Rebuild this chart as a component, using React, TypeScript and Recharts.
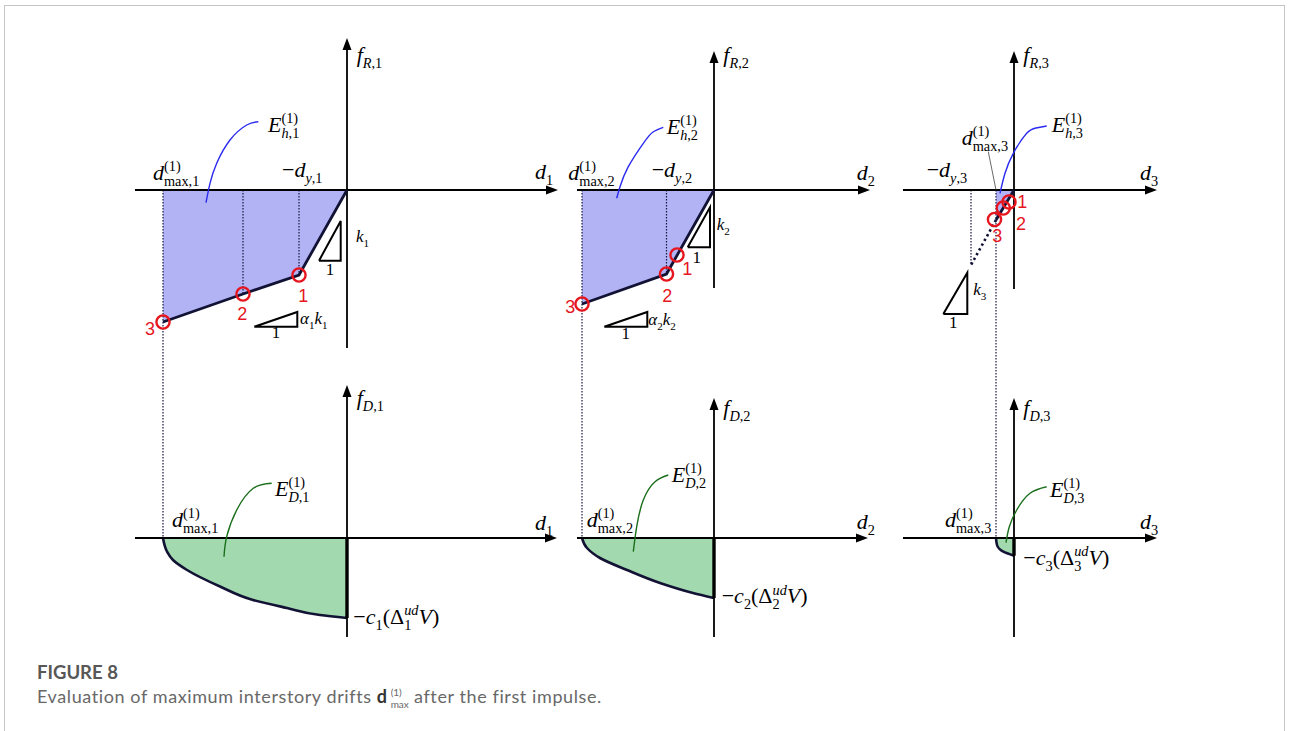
import React from "react";
import { ComposedChart, XAxis, YAxis, Line, Area, Scatter } from "recharts";

const SERIF = "'Liberation Serif', 'Times New Roman', serif";
const SANS = "'Liberation Sans', Arial, sans-serif";
const INK = "#000";
const CURVE = "#121235";
const DOTS = "#141440";
const BLUE_FILL = "#b2b3f5";
const GREEN_FILL = "#a3d9af";
const RED = "#e6161e";

// drift d (negative = left) and force f, one unit = 10 px in every panel
const maxDrift = [-18.4, -13.2, -1.8];

// restoring-force branch of each storey
const drift1 = [0, -4.8, -10.4, -18.4];
const force1 = [0, -8.5, -10.4, -13.2];
const drift2 = [0, -4.75, -13.2];
const force2 = [0, -8.4, -11.4];
const drift3 = [0, -1.8];
const force3 = [0, -3.0];

// storey 3 stays elastic: k3 line carried on to the yield point
const elasticD3 = [-1.8, -4.3];
const elasticF3 = [-3.0, -7.5];

// time-step markers 1, 2, 3
const stepD = [
  [-4.8, -10.4, -18.4],
  [-3.7, -4.75, -13.2],
  [-0.5, -1.07, -1.95],
];
const stepF = [
  [-8.5, -10.4, -13.2],
  [-6.5, -8.4, -11.4],
  [-1.2, -1.8, -2.95],
];

// dotted drop lines from the axis to the branch
const guideD = [[-4.8, -10.4], [-4.75], [-4.3]];
const guideF = [[-8.5, -10.4], [-8.4], [-7.5]];

// damper force against drift
const dampD1 = [-18.4, -18.0, -17.4, -16.0, -12.7, -9.4, -6.0, -2.7, 0];
const dampF1 = [0, -1.35, -2.2, -3.2, -4.85, -6.2, -7.0, -7.7, -8.0];
const dampD2 = [-13.2, -12.7, -11.4, -8.7, -5.4, -2.1, 0];
const dampF2 = [0, -1.0, -2.0, -3.2, -4.5, -5.5, -6.0];
const dampD3 = [-1.8, -1.7, -1.07, 0];
const dampF3 = [0, -0.7, -1.37, -1.77];

const BRANCH_D = [drift1, drift2, drift3];
const BRANCH_F = [force1, force2, force3];
const DAMP_D = [dampD1, dampD2, dampD3];
const DAMP_F = [dampF1, dampF2, dampF3];

// ---- layout ----
const PX = 10;
const COLS = [
  { left: 127, x: [-22, 22] },
  { left: 564, x: [-15, 17] },
  { left: 894, x: [-12, 15] },
];
const ROWS = [
  { top: 30, y: [-16.8, 16] },
  { top: 358, y: [-11, 18] },
];
const TOP_AX = [
  { x: [-21.2, 21.1], y: [-15.8, 15.2] },
  { x: [-13.7, 15.6], y: [-9.8, 13.9] },
  { x: [-11.1, 14.3], y: [-9.9, 13.9] },
];
const BOT_AX = [
  { x: [-21.2, 21.0], y: [-9.9, 15.3] },
  { x: [-13.7, 15.4], y: [-9.9, 14.0] },
  { x: [-11.1, 14.3], y: [-9.9, 14.0] },
];

// slope glyphs (k_i and alpha_i k_i)
const kTri = [
  { x: [-2.8, -0.63, -0.63, -2.8], y: [-7.07, -7.07, -3.1, -7.07] },
  { x: [-2.63, -0.4, -0.4, -2.63], y: [-5.73, -5.73, -1.73, -5.73] },
  { x: [-7.07, -4.67, -4.67, -7.07], y: [-12.4, -12.4, -8.27, -12.4] },
];
const aTri = [
  { x: [-9.27, -4.97, -4.97, -9.27], y: [-13.67, -13.67, -12.2, -13.67] },
  { x: [-10.97, -6.67, -6.67, -10.97], y: [-13.67, -13.67, -12.2, -13.67] },
  null,
];

// leader curves from the energy labels into the shaded areas
const hLeader = [
  { x: [-8.87, -10.03, -11.7, -13.03, -13.7, -14.1], y: [6.83, 6.5, 5.0, 2.67, 0.67, -1.27] },
  { x: [-5.07, -6.1, -7.07, -8.57, -9.4, -9.73], y: [6.27, 5.8, 4.67, 2.33, 0.33, -0.83] },
  { x: [3.27, 2.2, 1.27, -0.07, -0.9, -1.4], y: [6.4, 6.2, 5.67, 3.67, 1.67, -0.33] },
];
const dLeader = [
  { x: [-7.53, -9.37, -11.03, -12.03, -12.3], y: [5.47, 4.97, 2.8, 0.13, -1.87] },
  { x: [-4.57, -5.9, -7.07, -7.73, -8.07], y: [6.3, 5.63, 3.8, 1.13, -1.37] },
  { x: [3.27, 1.6, 0.27, -0.47, -0.8], y: [5.13, 4.47, 2.8, 1.13, -0.47] },
];

const TOP_LBL = [
  { fR: [0.97, 12.8], d: [18.8, 1.1], dmax: [-19.4, 1.0], dy: [-6.5, 1.3], E: [-7.9, 5.8], k: [0.9, -5.2], k1: [-1.7, -8.5], ak: [-4.7, -13.4], ak1: [-7.1, -14.8] },
  { fR: [0.93, 12.8], d: [14.27, 1.0], dmax: [-14.57, 1.0], dy: [-6.23, 1.3], E: [-4.73, 5.6], k: [0.27, -4.0], k1: [-1.73, -7.33], ak: [-6.57, -13.5], ak1: [-8.83, -14.93] },
  { fR: [0.93, 12.8], d: [12.6, 1.0], dmax: [-5.23, 4.5], dy: [-8.73, 1.3], E: [3.77, 5.8], k: [-4.07, -10.5], k1: [-6.07, -13.83] },
];
const RED_LBL = [
  [[-4.37, -11.17], [-10.47, -13.0], [-19.7, -14.5]],
  [[-2.67, -8.5], [-4.67, -11.17], [-14.37, -12.33]],
  [[0.83, -1.83], [0.7, -4.0], [-1.67, -5.17]],
];
const BOT_LBL = [
  { fD: [0.97, 13.3], d: [18.8, 0.8], dmax: [-17.5, 1.13], E: [-7.2, 4.2], c: [0.63, -8.6] },
  { fD: [0.93, 12.3], d: [14.27, 0.87], dmax: [-12.73, 1.13], E: [-4.23, 5.63], c: [0.77, -6.53] },
  { fD: [0.93, 12.3], d: [12.6, 0.87], dmax: [-6.9, 1.13], E: [3.6, 4.13], c: [0.93, -2.7] },
];

type Pt = { x: number; y: number };
// back: how far to step left before this token, in ems of the small size
type Tok = { t: string; i?: boolean; lv?: number; back?: number };
const zip = (xs: number[], ys: number[]): Pt[] => xs.map((x, i) => ({ x, y: ys[i] }));
const I = (t: string, lv = 0, back?: number): Tok => ({ t, i: true, lv, back });
const R = (t: string, lv = 0, back?: number): Tok => ({ t, lv, back });
const PAREN1 = 1.166; // "(1)"
const DIGIT = 0.5;

function Expr({ x, y, toks, size = 22, anchor = "start" }: any) {
  const small = size * 0.65;
  const shift = (lv: number) => (lv > 0 ? -size * 0.4 : lv < 0 ? size * 0.28 : 0);
  let level = 0;
  return (
    <text x={x} y={y} fontFamily={SERIF} fontSize={size} fill={INK} textAnchor={anchor}>
      {toks.map((k: Tok, i: number) => {
        const lv = k.lv ?? 0;
        const dy = shift(lv) - shift(level);
        level = lv;
        return (
          <tspan
            key={i}
            dy={dy || undefined}
            dx={k.back ? -k.back * small : undefined}
            fontStyle={k.i ? "italic" : "normal"}
            fontSize={lv ? small : size}
          >
            {k.t}
          </tspan>
        );
      })}
    </text>
  );
}

const labelShape = (p: any) => (
  <Expr x={p.cx} y={p.cy} toks={p.payload.toks} size={p.payload.size} anchor={p.payload.anchor} />
);
const redShape = (p: any) => (
  <text x={p.cx} y={p.cy} fontFamily={SANS} fontSize={18} fill={RED} textAnchor="middle">
    {p.payload.t}
  </text>
);
const ringShape = (p: any) => <circle cx={p.cx} cy={p.cy} r={6.6} fill="none" stroke={RED} strokeWidth={2.4} />;
const arrowShape = (p: any) => {
  const { cx, cy } = p;
  const pts =
    p.payload.dir === "r"
      ? `${cx},${cy} ${cx - 12},${cy - 4.5} ${cx - 12},${cy + 4.5}`
      : `${cx},${cy} ${cx - 4.5},${cy + 12} ${cx + 4.5},${cy + 12}`;
  return <polygon points={pts} fill={INK} />;
};

const path = (key: string, xs: number[], ys: number[], stroke: string, width: number, dash?: string, type: any = "linear") => (
  <Line
    key={key}
    data={zip(xs, ys)}
    dataKey="y"
    type={type}
    stroke={stroke}
    strokeWidth={width}
    strokeDasharray={dash}
    dot={false}
    activeDot={false}
    legendType="none"
    isAnimationActive={false}
  />
);

const axes = (ax: { x: number[]; y: number[] }) => [
  path("axh", [ax.x[0], ax.x[1] - 0.5], [0, 0], INK, 1.8),
  path("axv", [0, 0], [ax.y[0], ax.y[1] - 0.5], INK, 1.8),
];

function Frame({ n, row, children }: any) {
  const col = COLS[n];
  const r = ROWS[row];
  return (
    <div style={{ position: "absolute", left: col.left, top: r.top }}>
      <ComposedChart
        width={(col.x[1] - col.x[0]) * PX}
        height={(r.y[1] - r.y[0]) * PX}
        margin={{ top: 0, right: 0, bottom: 0, left: 0 }}
      >
        <XAxis type="number" dataKey="x" domain={col.x} hide allowDataOverflow height={0} />
        <YAxis type="number" dataKey="y" domain={r.y} hide allowDataOverflow width={0} />
        {children}
      </ComposedChart>
    </div>
  );
}

function TopPanel({ n }: { n: number }) {
  const s = String(n + 1);
  const ax = TOP_AX[n];
  const L: any = TOP_LBL[n];
  const dm = maxDrift[n];
  const labels: any[] = [
    { x: L.fR[0], y: L.fR[1], toks: [I("f"), I("R", -1), R("," + s, -1)] },
    { x: L.d[0], y: L.d[1], toks: [I("d"), R(s, -1)] },
    { x: L.dmax[0], y: L.dmax[1], toks: [I("d"), R("(1)", 1), R("max," + s, -1, PAREN1)] },
    { x: L.dy[0], y: L.dy[1], toks: [R("\u2212"), I("d"), I("y", -1), R("," + s, -1)] },
    { x: L.E[0], y: L.E[1], toks: [I("E"), R("(1)", 1), I("h", -1, PAREN1), R("," + s, -1)] },
    { x: L.k[0], y: L.k[1], size: 17, toks: [I("k"), R(s, -1)] },
    { x: L.k1[0], y: L.k1[1], size: 17, anchor: "middle", toks: [R("1")] },
  ];
  if (L.ak) {
    labels.push(
      { x: L.ak[0], y: L.ak[1], size: 17, toks: [I("\u03b1"), R(s, -1), I("k"), R(s, -1)] },
      { x: L.ak1[0], y: L.ak1[1], size: 17, anchor: "middle", toks: [R("1")] }
    );
  }
  const reds = RED_LBL[n].map(([x, y], i) => ({ x, y, t: String(i + 1) }));
  const tips = [
    { x: ax.x[1], y: 0, dir: "r" },
    { x: 0, y: ax.y[1], dir: "u" },
  ];
  const tri = aTri[n];
  return (
    <Frame n={n} row={0}>
      <Area
        data={zip(BRANCH_D[n], BRANCH_F[n])}
        dataKey="y"
        type="linear"
        baseValue={0}
        stroke="none"
        fill={BLUE_FILL}
        fillOpacity={1}
        isAnimationActive={false}
      />
      {path("dmax", [dm, dm], [0, ROWS[0].y[0]], DOTS, 1.2, "1.4 1.6")}
      {guideD[n].map((d, i) => path("g" + i, [d, d], [0, guideF[n][i]], DOTS, 1.2, "1.4 1.6"))}
      {axes(ax)}
      {n === 2 && path("ext", elasticD3, elasticF3, CURVE, 2.6, "2.4 3")}
      {path("branch", BRANCH_D[n], BRANCH_F[n], CURVE, 2.8)}
      {path("ktri", kTri[n].x, kTri[n].y, INK, 2)}
      {tri && path("atri", tri.x, tri.y, INK, 2)}
      {path("lead", hLeader[n].x, hLeader[n].y, "#2b2bf0", 1.4, undefined, "natural")}
      {n === 2 && path("lead2", [-2.57, -1.8], [3.83, 0], "#444", 0.8)}
      <Scatter data={zip(stepD[n], stepF[n])} dataKey="y" shape={ringShape} isAnimationActive={false} />
      <Scatter data={tips} dataKey="y" shape={arrowShape} isAnimationActive={false} />
      <Scatter data={labels} dataKey="y" shape={labelShape} isAnimationActive={false} />
      <Scatter data={reds} dataKey="y" shape={redShape} isAnimationActive={false} />
    </Frame>
  );
}

function BottomPanel({ n }: { n: number }) {
  const s = String(n + 1);
  const ax = BOT_AX[n];
  const L: any = BOT_LBL[n];
  const dm = maxDrift[n];
  const fEnd = DAMP_F[n][DAMP_F[n].length - 1];
  const labels = [
    { x: L.fD[0], y: L.fD[1], toks: [I("f"), I("D", -1), R("," + s, -1)] },
    { x: L.d[0], y: L.d[1], toks: [I("d"), R(s, -1)] },
    { x: L.dmax[0], y: L.dmax[1], toks: [I("d"), R("(1)", 1), R("max," + s, -1, PAREN1)] },
    { x: L.E[0], y: L.E[1], toks: [I("E"), R("(1)", 1), I("D", -1, PAREN1), R("," + s, -1)] },
    {
      x: L.c[0],
      y: L.c[1],
      toks: [R("\u2212"), I("c"), R(s, -1), R("(\u0394"), R(s, -1), I("ud", 1, DIGIT), I("V"), R(")")],
    },
  ];
  const tips = [
    { x: ax.x[1], y: 0, dir: "r" },
    { x: 0, y: ax.y[1], dir: "u" },
  ];
  return (
    <Frame n={n} row={1}>
      <Area
        data={zip(DAMP_D[n], DAMP_F[n])}
        dataKey="y"
        type="monotoneY"
        baseValue={0}
        stroke={CURVE}
        strokeWidth={2.6}
        fill={GREEN_FILL}
        fillOpacity={1}
        isAnimationActive={false}
      />
      {path("dmax", [dm, dm], [ROWS[1].y[1], 0], DOTS, 1.2, "1.4 1.6")}
      {axes(ax)}
      {path("c0", [0, 0], [0, fEnd], INK, 3.4)}
      {path("lead", dLeader[n].x, dLeader[n].y, "#1b6e1b", 1.4, undefined, "natural")}
      <Scatter data={tips} dataKey="y" shape={arrowShape} isAnimationActive={false} />
      <Scatter data={labels} dataKey="y" shape={labelShape} isAnimationActive={false} />
    </Frame>
  );
}

function Caption() {
  return (
    <div style={{ position: "absolute", left: 37, top: 661, fontFamily: "Lato, 'Open Sans', sans-serif" }}>
      <div style={{ fontSize: 18.5, fontWeight: 700, color: "#575757", lineHeight: "23px" }}>FIGURE 8</div>
      <div style={{ fontSize: 18, color: "#686868", lineHeight: "25px", whiteSpace: "nowrap", letterSpacing: 0.6 }}>
        Evaluation of maximum interstory drifts <b style={{ color: "#333" }}>d</b>
        <span
          style={{
            display: "inline-flex",
            flexDirection: "column",
            fontSize: 10,
            lineHeight: "12px",
            verticalAlign: "middle",
            marginLeft: 3,
            letterSpacing: 0,
          }}
        >
          <span>(1)</span>
          <span>max</span>
        </span>{" "}
        after the first impulse.
      </div>
    </div>
  );
}

export default function App() {
  return (
    <div style={{ position: "fixed", left: 0, top: 0, width: 1290, height: 731, background: "#fff", overflow: "hidden" }}>
      <div
        style={{
          position: "absolute",
          left: 4,
          top: 5,
          width: 1281,
          height: 760,
          border: "1.5px solid #c6c6c6",
          boxSizing: "border-box",
        }}
      />
      {[0, 1, 2].map((n) => (
        <TopPanel key={"t" + n} n={n} />
      ))}
      {[0, 1, 2].map((n) => (
        <BottomPanel key={"b" + n} n={n} />
      ))}
      <Caption />
    </div>
  );
}
